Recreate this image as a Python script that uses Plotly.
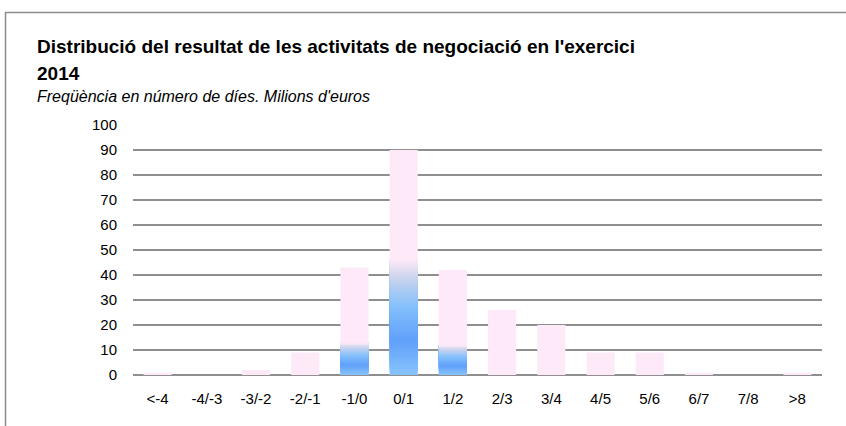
import plotly.graph_objects as go

categories = ["<-4", "-4/-3", "-3/-2", "-2/-1", "-1/0", "0/1", "1/2", "2/3", "3/4", "4/5", "5/6", "6/7", "7/8", ">8"]
total_days = [1, 0, 2, 9, 43, 90, 42, 26, 20, 9, 9, 1, 0, 1]
blue_days = [0, 0, 0, 0, 13, 46, 12, 0, 0, 0, 0, 0, 0, 0]
y_ticks = [0, 10, 20, 30, 40, 50, 60, 70, 80, 90, 100]

FONT = "Liberation Sans Narrow, Liberation Sans, Arial"
PINK = "#FDE9F8"

# gradient stops (position, rgb) for the blue overlay
stops = [
    (0.0, (136, 196, 252)),
    (0.30, (96, 160, 250)),
    (0.60, (132, 192, 252)),
    (0.85, (204, 212, 236)),
    (1.0, (253, 233, 248)),
]


def interp(t):
    for (p0, c0), (p1, c1) in zip(stops[:-1], stops[1:]):
        if p0 <= t <= p1:
            f = (t - p0) / (p1 - p0)
            return "rgb(%d,%d,%d)" % tuple(round(a + (b - a) * f) for a, b in zip(c0, c1))
    return "rgb(%d,%d,%d)" % stops[-1][1]


fig = go.Figure()
fig.add_trace(go.Bar(x=categories, y=total_days, marker=dict(color=PINK, line=dict(width=0)),
                     showlegend=False, hoverinfo="skip"))

N = 40
for k in range(N):
    fig.add_trace(go.Bar(
        x=categories,
        y=[v * (N - k) / N for v in blue_days],
        base=[v * k / N for v in blue_days],
        marker=dict(color=interp((k + 0.5) / N), line=dict(width=0)),
        showlegend=False, hoverinfo="skip",
    ))

fig.update_layout(
    width=846, height=426,
    margin=dict(l=133, r=24, t=125, b=51),
    paper_bgcolor="white", plot_bgcolor="white",
    barmode="overlay", bargap=0.43,
    font=dict(family=FONT, color="#000000", size=15),
    xaxis=dict(showgrid=False, ticks="outside", ticklen=10, tickcolor="rgba(0,0,0,0)",
               tickfont=dict(size=15), showline=False),
    yaxis=dict(range=[0, 100], tickvals=y_ticks, showgrid=True, gridcolor="#8F8F8F", gridwidth=1.6,
               zeroline=True, zerolinecolor="#8F8F8F", zerolinewidth=1.6,
               ticks="outside", ticklen=12, tickcolor="rgba(0,0,0,0)", tickfont=dict(size=15)),
    shapes=[dict(type="rect", xref="paper", yref="paper",
                 x0=(5.5 - 133) / 689, x1=1.2, y0=-0.5, y1=(375 - 12.5) / 250,
                 line=dict(color="#8C8C8C", width=1.5), fillcolor="rgba(0,0,0,0)", layer="below")],
    annotations=[
        dict(text="<b>Distribució del resultat de les activitats de negociació en l'exercici</b>",
             xref="paper", yref="paper", x=(35 - 133) / 689, y=(375 - 47) / 250,
             xanchor="left", yanchor="middle", showarrow=False, font=dict(size=19)),
        dict(text="<b>2014</b>",
             xref="paper", yref="paper", x=(35 - 133) / 689, y=(375 - 73) / 250,
             xanchor="left", yanchor="middle", showarrow=False, font=dict(size=19)),
        dict(text="<i>Freqüència en número de díes. Milions d'euros</i>",
             xref="paper", yref="paper", x=(35 - 133) / 689, y=(375 - 97) / 250,
             xanchor="left", yanchor="middle", showarrow=False, font=dict(size=16)),
    ],
)

fig.write_html("out.html", config={"displayModeBar": False},
               post_script="document.body.style.margin='0';document.body.style.overflow='hidden';")
